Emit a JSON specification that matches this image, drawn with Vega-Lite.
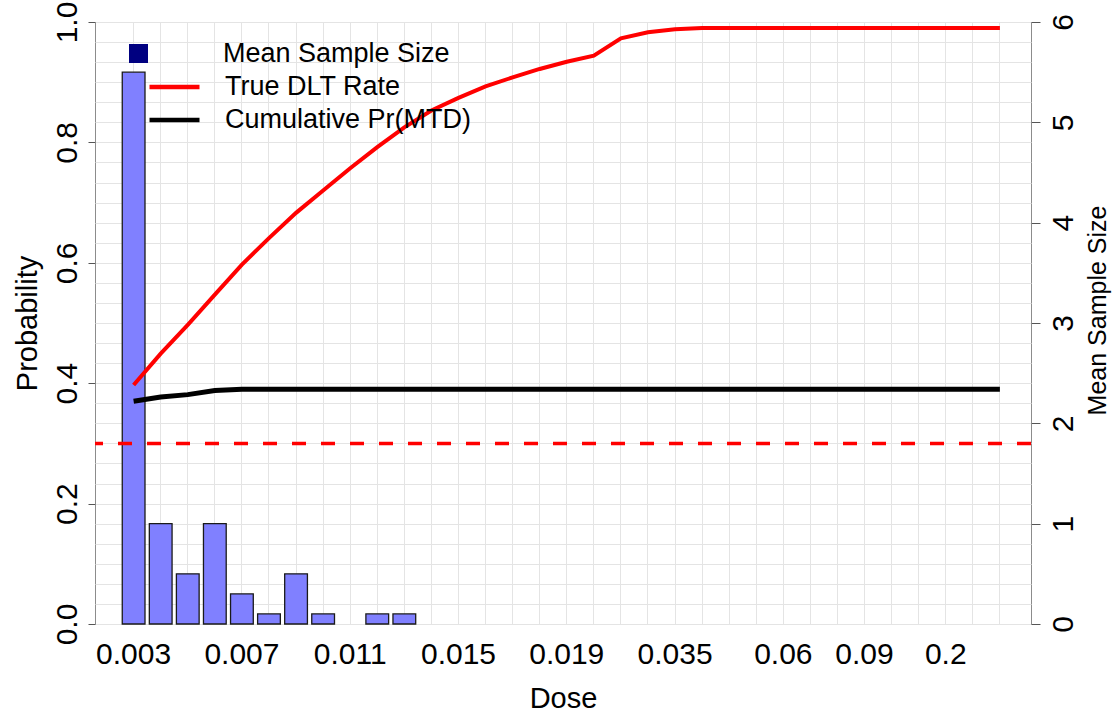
{
  "$schema": "https://vega.github.io/schema/vega-lite/v6.json",
  "autosize": {"type": "none"},
  "padding": {"left": 95, "top": 22, "right": 87, "bottom": 93},
  "width": 936,
  "height": 602,
  "background": "white",
  "config": {
    "font": "Liberation Sans",
    "view": {"stroke": "#8c8c8c", "strokeWidth": 1},
    "axis": {"labelFont": "Liberation Sans", "titleFont": "Liberation Sans", "labelColor": "#000000", "titleColor": "#000000", "titleFontWeight": "normal", "labelFontSize": 30, "titleFontSize": 29, "domainColor": "#8c8c8c", "tickColor": "#555555", "gridColor": "#e4e4e4", "gridWidth": 1, "labelOverlap": false, "labelFlush": false},
    "legend": {"labelFont": "Liberation Sans", "labelFontSize": 27, "labelColor": "#000000", "labelLimit": 0, "title": null, "padding": 0, "orient": "none", "symbolOpacity": 1}
  },
  "datasets": {
    "bars": [
      {"dose": "0.003", "n": 5.5},
      {"dose": "0.004", "n": 1.0},
      {"dose": "0.005", "n": 0.5},
      {"dose": "0.006", "n": 1.0},
      {"dose": "0.007", "n": 0.3},
      {"dose": "0.008", "n": 0.1},
      {"dose": "0.009", "n": 0.5},
      {"dose": "0.01", "n": 0.1},
      {"dose": "0.012", "n": 0.1},
      {"dose": "0.013", "n": 0.1}
    ],
    "lines": [
      {"dose": "0.003", "series": "True DLT Rate", "p": 0.397},
      {"dose": "0.004", "series": "True DLT Rate", "p": 0.449},
      {"dose": "0.005", "series": "True DLT Rate", "p": 0.497},
      {"dose": "0.006", "series": "True DLT Rate", "p": 0.547},
      {"dose": "0.007", "series": "True DLT Rate", "p": 0.597},
      {"dose": "0.008", "series": "True DLT Rate", "p": 0.641},
      {"dose": "0.009", "series": "True DLT Rate", "p": 0.683},
      {"dose": "0.01", "series": "True DLT Rate", "p": 0.72},
      {"dose": "0.011", "series": "True DLT Rate", "p": 0.757},
      {"dose": "0.012", "series": "True DLT Rate", "p": 0.792},
      {"dose": "0.013", "series": "True DLT Rate", "p": 0.825},
      {"dose": "0.014", "series": "True DLT Rate", "p": 0.853},
      {"dose": "0.015", "series": "True DLT Rate", "p": 0.874},
      {"dose": "0.016", "series": "True DLT Rate", "p": 0.893},
      {"dose": "0.017", "series": "True DLT Rate", "p": 0.908},
      {"dose": "0.018", "series": "True DLT Rate", "p": 0.922},
      {"dose": "0.019", "series": "True DLT Rate", "p": 0.934},
      {"dose": "0.02", "series": "True DLT Rate", "p": 0.944},
      {"dose": "0.025", "series": "True DLT Rate", "p": 0.973},
      {"dose": "0.03", "series": "True DLT Rate", "p": 0.983},
      {"dose": "0.035", "series": "True DLT Rate", "p": 0.988},
      {"dose": "0.04", "series": "True DLT Rate", "p": 0.99},
      {"dose": "0.045", "series": "True DLT Rate", "p": 0.99},
      {"dose": "0.05", "series": "True DLT Rate", "p": 0.99},
      {"dose": "0.06", "series": "True DLT Rate", "p": 0.99},
      {"dose": "0.07", "series": "True DLT Rate", "p": 0.99},
      {"dose": "0.08", "series": "True DLT Rate", "p": 0.99},
      {"dose": "0.09", "series": "True DLT Rate", "p": 0.99},
      {"dose": "0.1", "series": "True DLT Rate", "p": 0.99},
      {"dose": "0.15", "series": "True DLT Rate", "p": 0.99},
      {"dose": "0.2", "series": "True DLT Rate", "p": 0.99},
      {"dose": "0.25", "series": "True DLT Rate", "p": 0.99},
      {"dose": "0.3", "series": "True DLT Rate", "p": 0.99},
      {"dose": "0.003", "series": "Cumulative Pr(MTD)", "p": 0.37},
      {"dose": "0.004", "series": "Cumulative Pr(MTD)", "p": 0.377},
      {"dose": "0.005", "series": "Cumulative Pr(MTD)", "p": 0.381},
      {"dose": "0.006", "series": "Cumulative Pr(MTD)", "p": 0.388},
      {"dose": "0.007", "series": "Cumulative Pr(MTD)", "p": 0.39},
      {"dose": "0.008", "series": "Cumulative Pr(MTD)", "p": 0.39},
      {"dose": "0.009", "series": "Cumulative Pr(MTD)", "p": 0.39},
      {"dose": "0.01", "series": "Cumulative Pr(MTD)", "p": 0.39},
      {"dose": "0.011", "series": "Cumulative Pr(MTD)", "p": 0.39},
      {"dose": "0.012", "series": "Cumulative Pr(MTD)", "p": 0.39},
      {"dose": "0.013", "series": "Cumulative Pr(MTD)", "p": 0.39},
      {"dose": "0.014", "series": "Cumulative Pr(MTD)", "p": 0.39},
      {"dose": "0.015", "series": "Cumulative Pr(MTD)", "p": 0.39},
      {"dose": "0.016", "series": "Cumulative Pr(MTD)", "p": 0.39},
      {"dose": "0.017", "series": "Cumulative Pr(MTD)", "p": 0.39},
      {"dose": "0.018", "series": "Cumulative Pr(MTD)", "p": 0.39},
      {"dose": "0.019", "series": "Cumulative Pr(MTD)", "p": 0.39},
      {"dose": "0.02", "series": "Cumulative Pr(MTD)", "p": 0.39},
      {"dose": "0.025", "series": "Cumulative Pr(MTD)", "p": 0.39},
      {"dose": "0.03", "series": "Cumulative Pr(MTD)", "p": 0.39},
      {"dose": "0.035", "series": "Cumulative Pr(MTD)", "p": 0.39},
      {"dose": "0.04", "series": "Cumulative Pr(MTD)", "p": 0.39},
      {"dose": "0.045", "series": "Cumulative Pr(MTD)", "p": 0.39},
      {"dose": "0.05", "series": "Cumulative Pr(MTD)", "p": 0.39},
      {"dose": "0.06", "series": "Cumulative Pr(MTD)", "p": 0.39},
      {"dose": "0.07", "series": "Cumulative Pr(MTD)", "p": 0.39},
      {"dose": "0.08", "series": "Cumulative Pr(MTD)", "p": 0.39},
      {"dose": "0.09", "series": "Cumulative Pr(MTD)", "p": 0.39},
      {"dose": "0.1", "series": "Cumulative Pr(MTD)", "p": 0.39},
      {"dose": "0.15", "series": "Cumulative Pr(MTD)", "p": 0.39},
      {"dose": "0.2", "series": "Cumulative Pr(MTD)", "p": 0.39},
      {"dose": "0.25", "series": "Cumulative Pr(MTD)", "p": 0.39},
      {"dose": "0.3", "series": "Cumulative Pr(MTD)", "p": 0.39}
    ],
    "target": [{"p": 0.3}],
    "legendonly": []
  },
  "layer": [
    {
      "data": {"name": "bars"},
      "mark": {"type": "bar", "fill": "#8080FF", "stroke": "#1a1a1a", "strokeWidth": 1.3, "opacity": 1},
      "encoding": {
        "x": {
          "field": "dose", "type": "ordinal",
          "scale": {"type": "band", "domain": ["0.003","0.004","0.005","0.006","0.007","0.008","0.009","0.01","0.011","0.012","0.013","0.014","0.015","0.016","0.017","0.018","0.019","0.02","0.025","0.03","0.035","0.04","0.045","0.05","0.06","0.07","0.08","0.09","0.1","0.15","0.2","0.25","0.3"], "paddingInner": 0.16, "paddingOuter": 0.868, "align": 0.58},
          "axis": {"title": "Dose", "grid": true, "bandPosition": 0.5, "ticks": false, "tickSize": 0, "labelAngle": 0, "labelPadding": 15, "labelBaseline": "top", "labelExpr": "indexof(['0.003','0.007','0.011','0.015','0.019','0.035','0.06','0.09','0.2'], datum.label) >= 0 ? datum.label : ''", "titleY": 74, "titleBaseline": "middle", "domain": false}
        },
        "y": {
          "field": "n", "type": "quantitative",
          "scale": {"domain": [0, 6], "nice": false, "zero": true},
          "axis": {"orient": "right", "title": "Mean Sample Size", "titleFontSize": 25, "values": [0,0.2,0.4,0.6,0.8,1,1.2,1.4,1.6,1.8,2,2.2,2.4,2.6,2.8,3,3.2,3.4,3.6,3.8,4,4.2,4.4,4.6,4.8,5,5.2,5.4,5.6,5.8,6], "grid": true, "labelExpr": "abs(datum.value - round(datum.value)) < 0.001 ? format(datum.value, 'd') : ''", "tickOpacity": {"condition": {"test": "abs(datum.value - round(datum.value)) < 0.001", "value": 1}, "value": 0}, "tickSize": 9, "labelAngle": 270, "labelAlign": "center", "labelBaseline": "top", "labelPadding": 8, "titleAngle": 270, "titleX": 66, "titleY": 288, "titleAlign": "center", "titleBaseline": "middle", "domain": false}
        }
      }
    },
    {
      "data": {"name": "legendonly"},
      "mark": {"type": "square", "filled": true, "opacity": 1},
      "encoding": {
        "fill": {"field": "series", "type": "nominal", "scale": {"domain": ["Mean Sample Size"], "range": ["#000080"]},
          "legend": {"orient": "none", "legendX": 30, "legendY": 18, "symbolType": "square", "symbolSize": 360, "symbolStrokeWidth": 0, "symbolOpacity": 1, "labelOffset": 71}}
      }
    },
    {
      "layer": [
        {
          "data": {"name": "lines"},
          "transform": [{"filter": "datum.series === 'True DLT Rate'"}],
          "mark": {"type": "line", "strokeWidth": 4},
          "encoding": {
            "x": {"field": "dose", "type": "ordinal"},
            "y": {"field": "p", "type": "quantitative", "scale": {"domain": [0, 1], "nice": false},
              "axis": {"orient": "left", "title": "Probability", "values": [0, 0.2, 0.4, 0.6, 0.8, 1], "format": ".1f", "grid": false, "tickSize": 7, "labelAngle": 270, "labelAlign": "center", "labelBaseline": "bottom", "labelPadding": 6, "titleAngle": 270, "titleX": -68, "titleY": 301, "titleAlign": "center", "titleBaseline": "middle", "domain": false}},
            "color": {"field": "series", "type": "nominal", "scale": {"domain": ["True DLT Rate"], "range": ["#FF0000"]},
              "legend": {"orient": "none", "legendX": 52, "legendY": 37.5, "symbolType": "stroke", "symbolSize": 2500, "symbolStrokeWidth": 4.5, "labelOffset": 23}}
          }
        },
        {
          "data": {"name": "lines"},
          "transform": [{"filter": "datum.series === 'Cumulative Pr(MTD)'"}],
          "mark": {"type": "line", "strokeWidth": 5},
          "encoding": {
            "x": {"field": "dose", "type": "ordinal"},
            "y": {"field": "p", "type": "quantitative", "scale": {"domain": [0, 1], "nice": false},
              "axis": {"orient": "left", "title": "Probability", "values": [0, 0.2, 0.4, 0.6, 0.8, 1], "format": ".1f", "grid": false, "tickSize": 7, "labelAngle": 270, "labelAlign": "center", "labelBaseline": "bottom", "labelPadding": 6, "titleAngle": 270, "titleX": -68, "titleY": 301, "titleAlign": "center", "titleBaseline": "middle", "domain": false}},
            "stroke": {"field": "series", "type": "nominal", "scale": {"domain": ["Cumulative Pr(MTD)"], "range": ["#000000"]},
              "legend": {"orient": "none", "legendX": 52, "legendY": 70.5, "symbolType": "stroke", "symbolSize": 2500, "symbolStrokeWidth": 4.5, "labelOffset": 23}}
          }
        },
        {
          "data": {"name": "target"},
          "mark": {"type": "rule", "color": "#FF0000", "strokeDash": [14, 15], "strokeWidth": 3.5},
          "encoding": {
            "y": {"field": "p", "type": "quantitative", "scale": {"domain": [0, 1], "nice": false},
              "axis": {"orient": "left", "title": "Probability", "values": [0, 0.2, 0.4, 0.6, 0.8, 1], "format": ".1f", "grid": false, "tickSize": 7, "labelAngle": 270, "labelAlign": "center", "labelBaseline": "bottom", "labelPadding": 6, "titleAngle": 270, "titleX": -68, "titleY": 301, "titleAlign": "center", "titleBaseline": "middle", "domain": false}}
          }
        }
      ]
    }
  ],
  "resolve": {"scale": {"y": "independent"}}
}
